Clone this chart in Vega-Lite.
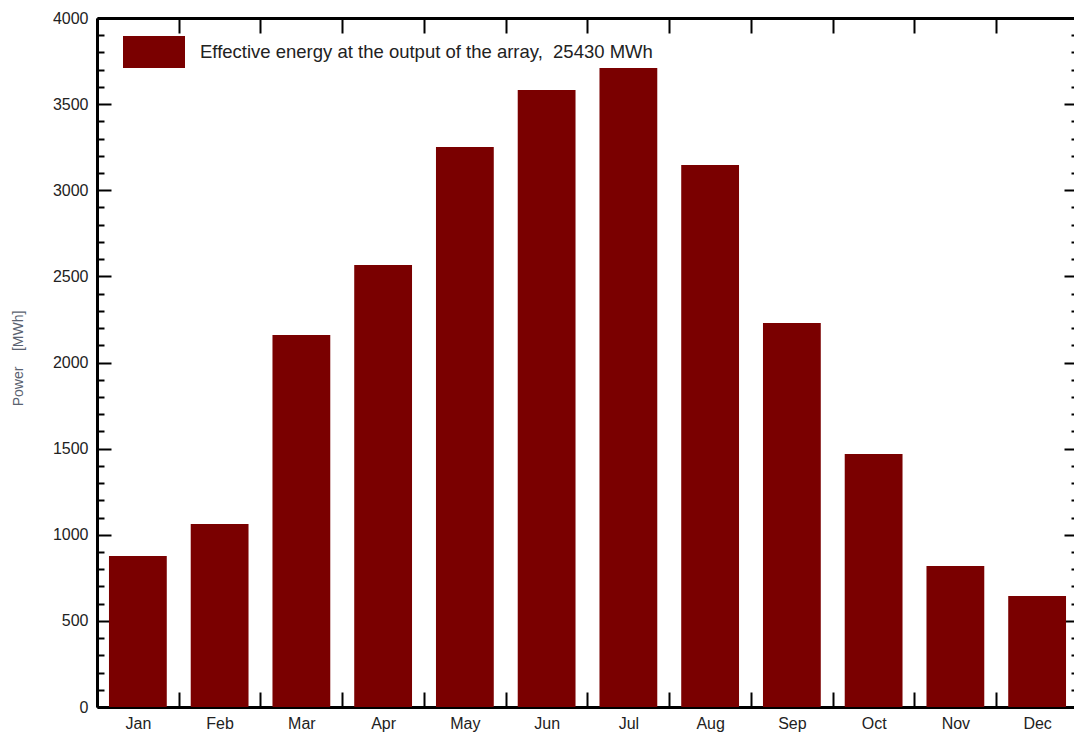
{
  "$schema": "https://vega.github.io/schema/vega-lite/v6.json",
  "width": 981,
  "height": 689,
  "autosize": {"type": "none"},
  "padding": {"left": 97, "top": 18, "right": 0, "bottom": 31},
  "background": "white",
  "config": {"view": {"stroke": null}, "font": "Liberation Sans", "axis": {"grid": false}},
  "data": {
    "values": [
      {"month": "Jan", "energy": 876, "series": "Effective energy at the output of the array,\u00a0 25430 MWh"},
      {"month": "Feb", "energy": 1062, "series": "Effective energy at the output of the array,\u00a0 25430 MWh"},
      {"month": "Mar", "energy": 2160, "series": "Effective energy at the output of the array,\u00a0 25430 MWh"},
      {"month": "Apr", "energy": 2566, "series": "Effective energy at the output of the array,\u00a0 25430 MWh"},
      {"month": "May", "energy": 3251, "series": "Effective energy at the output of the array,\u00a0 25430 MWh"},
      {"month": "Jun", "energy": 3582, "series": "Effective energy at the output of the array,\u00a0 25430 MWh"},
      {"month": "Jul", "energy": 3710, "series": "Effective energy at the output of the array,\u00a0 25430 MWh"},
      {"month": "Aug", "energy": 3147, "series": "Effective energy at the output of the array,\u00a0 25430 MWh"},
      {"month": "Sep", "energy": 2229, "series": "Effective energy at the output of the array,\u00a0 25430 MWh"},
      {"month": "Oct", "energy": 1469, "series": "Effective energy at the output of the array,\u00a0 25430 MWh"},
      {"month": "Nov", "energy": 819, "series": "Effective energy at the output of the array,\u00a0 25430 MWh"},
      {"month": "Dec", "energy": 644, "series": "Effective energy at the output of the array,\u00a0 25430 MWh"}
    ]
  },
  "layer": [
    {
      "mark": {"type": "bar", "color": "#7a0000"},
      "encoding": {
        "x": {
          "field": "month", "type": "ordinal", "sort": null,
          "scale": {"paddingInner": 0.293, "paddingOuter": 0.1465},
          "axis": {
            "orient": "bottom", "title": null, "labelAngle": 0, "grid": false,
            "domainColor": "black", "domainWidth": 3,
            "bandPosition": 0, "tickOffset": -12, "labelOffset": 12,
            "tickSize": -15, "tickColor": "black", "tickWidth": 2,
            "labelFontSize": 16, "labelColor": "#222", "labelPadding": 23
          }
        },
        "y": {
          "field": "energy", "type": "quantitative",
          "scale": {"domain": [0, 4000], "nice": false},
          "axis": {
            "orient": "left", "grid": false,
            "values": [0,100,200,300,400,500,600,700,800,900,1000,1100,1200,1300,1400,1500,1600,1700,1800,1900,2000,2100,2200,2300,2400,2500,2600,2700,2800,2900,3000,3100,3200,3300,3400,3500,3600,3700,3800,3900,4000],
            "labelExpr": "datum.value % 500 === 0 ? datum.label : ''",
            "format": "d",
            "domainColor": "black", "domainWidth": 3,
            "tickColor": "black", "tickWidth": 2,
            "tickSize": {"condition": {"test": "datum.value % 500 === 0", "value": -14}, "value": -7},
            "labelFontSize": 16, "labelColor": "#222", "labelPadding": 23,
            "title": "Power\u00a0\u00a0\u00a0\u00a0[MWh]", "titleFontSize": 14, "titleFontWeight": "normal", "titleColor": "#5a6270",
            "titleX": -79, "titleY": 340, "titleAngle": -90, "titleBaseline": "middle", "titleAlign": "center"
          }
        },
        "color": {
          "field": "series", "type": "nominal",
          "scale": {"range": ["#7a0000"]},
          "legend": {
            "title": null, "orient": "none", "legendX": 26, "legendY": 3, "padding": 0,
            "symbolType": "M-1,-0.516H1V0.516H-1Z", "symbolSize": 3844,
            "symbolStrokeWidth": 0, "symbolOpacity": 1,
            "labelFontSize": 18.5, "labelColor": "#222", "labelOffset": 15, "labelLimit": 900
          }
        }
      }
    },
    {
      "mark": {"type": "bar", "opacity": 0},
      "encoding": {
        "x": {
          "field": "month", "type": "ordinal", "sort": null,
          "scale": {"paddingInner": 0.293, "paddingOuter": 0.1465},
          "axis": {
            "orient": "top", "title": null, "labels": false, "grid": false,
            "domainColor": "black", "domainWidth": 3,
            "bandPosition": 0, "tickOffset": -12,
            "tickSize": -15, "tickColor": "black", "tickWidth": 2
          }
        },
        "y": {
          "field": "energy", "type": "quantitative",
          "scale": {"domain": [0, 4000], "nice": false},
          "axis": {
            "orient": "right", "title": null, "labels": false, "grid": false,
            "values": [0,100,200,300,400,500,600,700,800,900,1000,1100,1200,1300,1400,1500,1600,1700,1800,1900,2000,2100,2200,2300,2400,2500,2600,2700,2800,2900,3000,3100,3200,3300,3400,3500,3600,3700,3800,3900,4000],
            "domainColor": "black", "domainWidth": 3,
            "tickColor": "black", "tickWidth": 2,
            "tickSize": {"condition": {"test": "datum.value % 500 === 0", "value": -14}, "value": -7}
          }
        }
      }
    }
  ],
  "resolve": {"axis": {"x": "independent", "y": "independent"}}
}
